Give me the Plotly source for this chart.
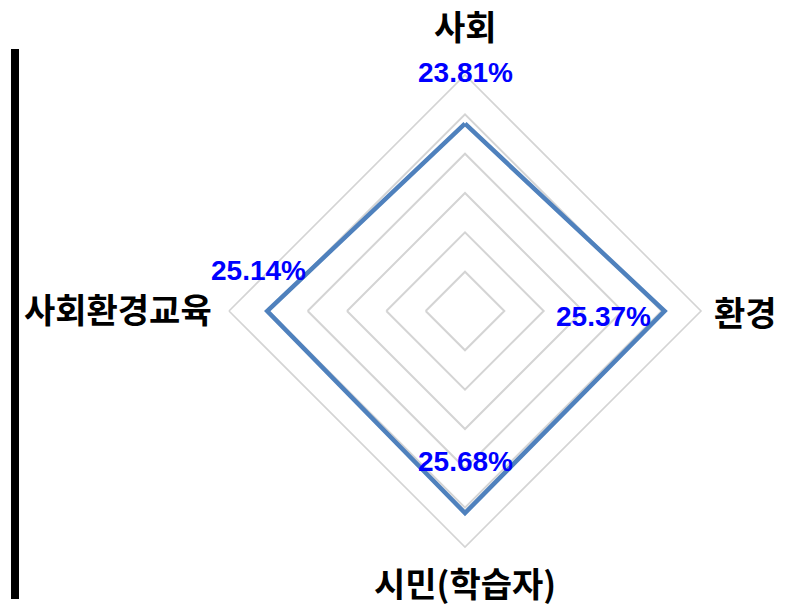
import plotly.graph_objects as go

categories = ["사회", "환경", "시민(학습자)", "사회환경교육"]
values = [23.81, 25.37, 25.68, 25.14]
value_labels = ["23.81%", "25.37%", "25.68%", "25.14%"]

W, H = 792, 608
cx, cy, R = 465, 311, 236  # pixel centre / radius of the polar area

fig = go.Figure()
fig.add_trace(go.Scatterpolar(
    r=values + [values[0]],
    theta=categories + [categories[0]],
    mode="lines",
    line=dict(color="#4F81BD", width=4.5),
    hoverinfo="skip",
    showlegend=False,
))

fig.update_layout(
    width=W, height=H,
    margin=dict(l=0, r=0, t=0, b=0),
    paper_bgcolor="white",
    plot_bgcolor="white",
    polar=dict(
        domain=dict(x=[(cx - R) / W, (cx + R) / W],
                    y=[(H - cy - R) / H, (H - cy + R) / H]),
        bgcolor="white",
        gridshape="linear",
        radialaxis=dict(range=[0, 30], dtick=5, showticklabels=False, ticks="",
                        showline=False, gridcolor="#D4D4D4", gridwidth=1.6),
        angularaxis=dict(rotation=90, direction="clockwise", showticklabels=False,
                         ticks="", showgrid=False, linecolor="#D4D4D4", linewidth=1.6),
    ),
)

# category labels (outside the grid)
label_pos = [(465, 25), (745, 311), (465, 582), (118, 308)]
for txt, (px, py) in zip(categories, label_pos):
    fig.add_annotation(text="<b>%s</b>" % txt, x=px / W, y=1 - py / H,
                       xref="paper", yref="paper", showarrow=False,
                       xanchor="center", yanchor="middle",
                       font=dict(family="Noto Sans CJK KR", size=34, color="black"))

# value labels
val_pos = [(465, 72), (603, 316), (465, 462), (258, 270)]
for txt, (px, py) in zip(value_labels, val_pos):
    fig.add_annotation(text="<b>%s</b>" % txt, x=px / W, y=1 - py / H,
                       xref="paper", yref="paper", showarrow=False,
                       xanchor="center", yanchor="middle",
                       font=dict(family="Liberation Sans", size=28, color="#0000FF"))

# left vertical black bar
fig.add_shape(type="rect", xref="paper", yref="paper",
              x0=11 / W, x1=19 / W, y0=1 - 599 / H, y1=1 - 49 / H,
              fillcolor="black", line=dict(width=0))

fig.write_html("out.html", config={"displayModeBar": False},
               post_script="document.body.style.margin='0';")
